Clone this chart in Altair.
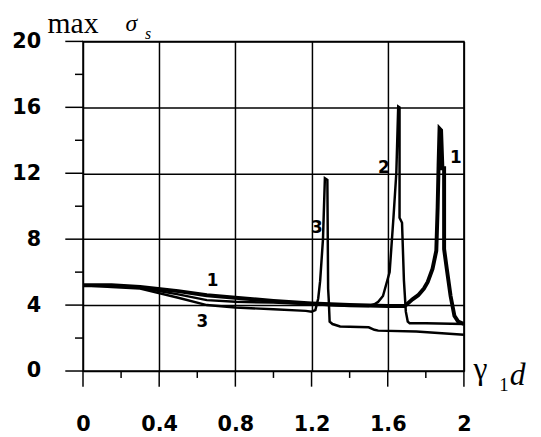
import altair as alt
import pandas as pd

# Curve 1 (thick)
x1 = [0.0, 0.15, 0.3, 0.5, 0.65, 0.8, 1.0, 1.2, 1.4, 1.6, 1.69, 1.73, 1.76, 1.79, 1.81, 1.835,
      1.855, 1.862, 1.867, 1.872, 1.88, 1.887, 1.896, 1.896, 1.91, 1.93, 1.95, 1.97, 2.0]
y1 = [5.2, 5.2, 5.1, 4.85, 4.6, 4.45, 4.25, 4.1, 4.0, 3.95, 3.95, 4.35, 4.6, 5.0, 5.4, 6.2,
      7.3, 9.9, 12.5, 14.7, 14.6, 12.3, 12.3, 7.4, 6.2, 4.55, 3.35, 3.0, 2.85]

# Curve 2
x2 = [0.0, 0.15, 0.3, 0.5, 0.65, 0.8, 1.0, 1.2, 1.4, 1.5, 1.53, 1.55, 1.575, 1.61, 1.63,
      1.645, 1.655, 1.662, 1.662, 1.675, 1.685, 1.695, 1.705, 1.715, 1.8, 2.0]
y2 = [5.2, 5.15, 5.05, 4.65, 4.3, 4.2, 4.15, 4.05, 3.95, 3.95, 4.05, 4.2, 4.55, 6.0, 9.3,
      12.0, 16.05, 16.0, 9.3, 9.0, 5.5, 3.6, 3.0, 2.9, 2.9, 2.85]

# Curve 3
x3 = [0.0, 0.15, 0.3, 0.5, 0.65, 0.8, 1.0, 1.17, 1.2, 1.22, 1.235, 1.245, 1.26, 1.27,
      1.283, 1.287, 1.29, 1.295, 1.31, 1.35, 1.5, 1.53, 1.55, 1.75, 2.0]
y3 = [5.2, 5.1, 5.0, 4.45, 4.0, 3.85, 3.75, 3.65, 3.6, 3.7, 4.4, 5.45, 8.0, 11.7,
      11.6, 5.0, 4.4, 3.0, 2.85, 2.7, 2.65, 2.5, 2.45, 2.4, 2.2]

x_ticks = [0.0, 0.2, 0.4, 0.6, 0.8, 1.0, 1.2, 1.4, 1.6, 1.8, 2.0]
x_major = [True, False, True, False, True, False, True, False, True, False, True]
y_ticks = [0, 2, 4, 6, 8, 10, 12, 14, 16, 18, 20]
y_major = [True, False, True, False, True, False, True, False, True, False, True]

curve_labels = ["1", "3", "3", "2", "1"]
curve_label_x = [0.68, 0.627, 1.228, 1.58, 1.958]
curve_label_y = [5.45, 3.0, 8.68, 12.34, 12.93]


def frame(xs, ys):
    return pd.DataFrame({"x": xs, "y": ys, "i": list(range(len(xs)))})


major_x = "round(datum.value*10) % 4 == 0"
major_y = "round(datum.value) % 4 == 0"

label_font = "DejaVu Sans"

xaxis = alt.Axis(
    values=x_ticks, format=".1~f",
    labelExpr=f"({major_x}) ? datum.label : ''",
    grid=True, gridColor="black", gridWidth=1.5,
    gridOpacity={"condition": {"test": major_x, "value": 1}, "value": 0},
    tickSize=16, tickOpacity=0, domain=False,
    labelFont=label_font, labelFontWeight="bold", labelFontSize=21,
    labelColor="black", labelPadding=27, labelFlush=False, labelOverlap=False,
    title=None,
)
yaxis = alt.Axis(
    values=y_ticks, format="d",
    labelExpr=f"({major_y}) ? datum.label : ''",
    grid=True, gridColor="black", gridWidth=1.5,
    gridOpacity={"condition": {"test": major_y, "value": 1}, "value": 0},
    tickSize=18, tickOpacity=0, domain=False,
    labelFont=label_font, labelFontWeight="bold", labelFontSize=21,
    labelColor="black", labelPadding=25, labelFlush=False, labelOverlap=False,
    title=None,
)

xs = alt.Scale(domain=[0, 2], nice=False, zero=False)
ys = alt.Scale(domain=[0, 20], nice=False, zero=False)

X = alt.X("x:Q", scale=xs, axis=xaxis)
Y = alt.Y("y:Q", scale=ys, axis=yaxis)


def curve(xv, yv, w):
    return alt.Chart(frame(xv, yv)).mark_line(color="black", strokeWidth=w).encode(
        x=X, y=Y, order="i:Q"
    )


c1 = curve(x1, y1, 4)
c2 = curve(x2, y2, 2.5)
c3 = curve(x3, y3, 2.5)

# tick marks drawn outside the plot (length expressed in data units of the other axis)
xt = pd.DataFrame({"x": x_ticks, "major": x_major})
xtick = alt.Chart(xt).transform_calculate(
    y0="0", y1="datum.major ? -0.95 : -0.42"
).mark_rule(color="black", strokeWidth=1.5).encode(
    x=X, y=alt.Y("y0:Q", scale=ys, axis=yaxis), y2="y1:Q"
)
yt = pd.DataFrame({"y": y_ticks, "major": y_major})
ytick = alt.Chart(yt).transform_calculate(
    x0="0", x1="datum.major ? -0.093 : -0.042"
).mark_rule(color="black", strokeWidth=1.5).encode(
    y=Y, x=alt.X("x0:Q", scale=xs, axis=xaxis), x2="x1:Q"
)

lab = alt.Chart(pd.DataFrame({"x": curve_label_x, "y": curve_label_y, "t": curve_labels})).mark_text(
    font=label_font, fontWeight="bold", fontSize=17, color="black", align="center", baseline="middle"
).encode(x=X, y=Y, text="t:N")

serif = "Liberation Serif"


def note(x, y, t, size, style="normal"):
    return alt.Chart(pd.DataFrame({"x": [x], "y": [y], "t": [t]})).mark_text(
        font=serif, fontSize=size, fontStyle=style, color="black", align="left", baseline="alphabetic"
    ).encode(x=X, y=Y, text="t:N")


notes = [
    note(-0.1865, 20.54, "max", 30),
    note(0.2228, 20.66, "σ", 24, "italic"),
    note(0.325, 20.12, "s", 16, "italic"),
    note(2.05, -0.48, "γ", 32),
    note(2.185, -1.2, "1", 19),
    note(2.24, -0.84, "d", 32, "italic"),
]

chart = alt.layer(xtick, ytick, c1, c2, c3, lab, *notes).properties(
    width=386, height=334,
    padding={"left": 76, "top": 31, "right": 70, "bottom": 63},
    autosize="none",
    background="white",
).configure_view(stroke="black", strokeWidth=1.5)

chart.save("out.html", embed_options={"renderer": "svg", "actions": False})
